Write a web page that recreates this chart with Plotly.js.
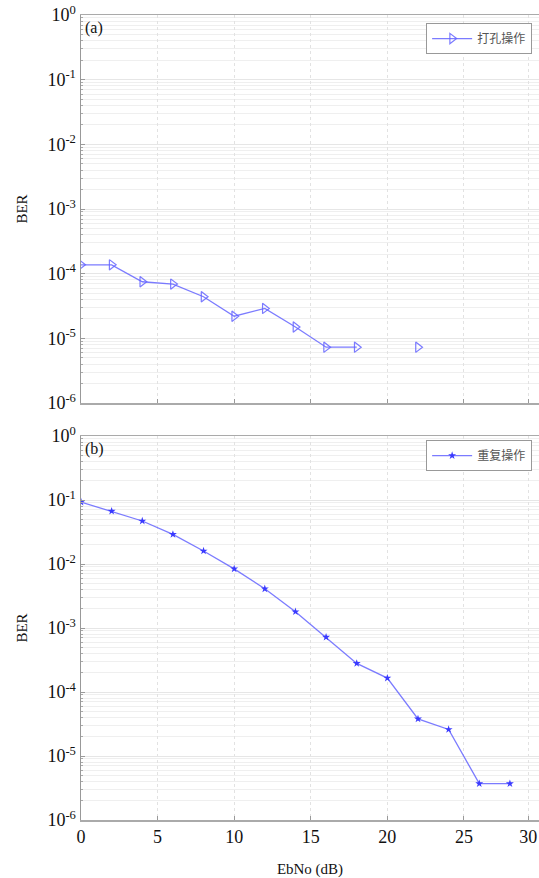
<!DOCTYPE html>
<html>
<head>
<meta charset="utf-8">
<script src="https://cdn.plot.ly/plotly-3.0.1.min.js"></script>
<style>html,body{margin:0;padding:0;background:#fff;}#chart{width:539px;height:878px;}</style>
</head>
<body>
<div id="chart"></div>
<script>
// Panel (a): puncturing
const xA = [0, 2, 4, 6, 8, 10, 12, 14, 16, 18, 20, 22];
const berA = [1.37e-4, 1.37e-4, 7.5e-5, 6.9e-5, 4.4e-5, 2.2e-5, 2.9e-5, 1.5e-5, 7.3e-6, 7.3e-6, null, 7.3e-6];
const nameA = '打孔操作';
// Panel (b): repetition
const xB = [0, 2, 4, 6, 8, 10, 12, 14, 16, 18, 20, 22, 24, 26, 28];
const berB = [0.093, 0.067, 0.047, 0.029, 0.016, 0.0084, 0.0041, 0.0018, 7.2e-4, 2.8e-4, 1.65e-4, 3.8e-5, 2.6e-5, 3.7e-6, 3.7e-6];
const nameB = '重复操作';
// Tick labels
const yTickVals = [1, 0.1, 0.01, 0.001, 1e-4, 1e-5, 1e-6];
const yTickText = ['10<sup>0</sup>', '10<sup>-1</sup>', '10<sup>-2</sup>', '10<sup>-3</sup>', '10<sup>-4</sup>', '10<sup>-5</sup>', '10<sup>-6</sup>'];
const xTickVals = [0, 5, 10, 15, 20, 25, 29.2];
const xTickText = ['0', '5', '10', '15', '20', '25', '30'];

const minorVals = [];
for (let e = -6; e < 0; e++) for (let m = 2; m <= 9; m++) minorVals.push(m * Math.pow(10, e));

const lineCol = 'rgba(100,100,255,0.85)';
const serif = 'Liberation Serif';

const traces = [
  {x: xA, y: berA, name: nameA, mode: 'lines+markers', connectgaps: false,
   xaxis: 'x2', yaxis: 'y2', legend: 'legend',
   line: {color: lineCol, width: 1.3},
   marker: {symbol: 'triangle-right-open', size: 9, color: lineCol, line: {width: 1.2}}},
  {x: xB, y: berB, name: nameB, mode: 'lines+markers',
   xaxis: 'x', yaxis: 'y', legend: 'legend2',
   line: {color: lineCol, width: 1.3},
   marker: {symbol: 'star', size: 6, color: '#3a3aff'}}
];

function yax(domain) {
  return {
    type: 'log', domain: domain, range: [-6, 0],
    tickmode: 'array', tickvals: yTickVals, ticktext: yTickText,
    ticks: 'inside', ticklen: 4, tickcolor: '#999',
    showgrid: true, gridcolor: '#e6e6e6', gridwidth: 1,
    showline: true, linecolor: '#999', linewidth: 1.5, mirror: true,
    zeroline: false,
    tickfont: {family: serif, size: 18, color: '#111'},
    title: {text: 'BER', font: {family: serif, size: 15, color: '#111'}, standoff: 16},
    minor: {tickmode: 'array', tickvals: minorVals, showgrid: true, gridcolor: '#efefef', ticks: 'inside', ticklen: 2, tickcolor: '#aaa'}
  };
}
function xax(showLabels, anchor) {
  return {
    range: [0, 29.9], anchor: anchor,
    tickmode: 'array', tickvals: xTickVals, ticktext: xTickText,
    showticklabels: showLabels,
    ticks: 'inside', ticklen: 4, tickcolor: '#999',
    showgrid: true, gridcolor: '#e2e2e2', griddash: 'dot',
    showline: true, linecolor: '#aaa', linewidth: 1.5, mirror: true,
    zeroline: false,
    tickfont: {family: serif, size: 18, color: '#111'}
  };
}

const xb = xax(true, 'y');
xb.title = {text: 'EbNo (dB)', font: {family: serif, size: 15, color: '#111'}, standoff: 17};
const xt = xax(false, 'y2');
xt.matches = 'x';

const legendStyle = {
  bgcolor: '#fff', bordercolor: '#999', borderwidth: 1,
  font: {family: 'Noto Sans CJK SC', size: 12, color: '#555'},
  xanchor: 'right', yanchor: 'top', itemwidth: 40, tracegroupgap: 0
};

const layout = {
  width: 539, height: 878,
  font: {family: serif, size: 17, color: '#111'},
  margin: {l: 81, r: 0, t: 15, b: 58},
  paper_bgcolor: '#fff', plot_bgcolor: '#fff',
  showlegend: true,
  xaxis: xb,
  yaxis: yax([0, 0.477]),
  xaxis2: xt,
  yaxis2: yax([0.518, 1]),
  legend: Object.assign({x: 0.985, y: 0.99, xref: 'paper', yref: 'paper'}, legendStyle),
  legend2: Object.assign({x: 0.985, y: 0.472, xref: 'paper', yref: 'paper'}, legendStyle),
  annotations: [
    {text: '(a)', xref: 'paper', yref: 'paper', x: 0.005, y: 0.998, xanchor: 'left', yanchor: 'top', showarrow: false, font: {family: serif, size: 16, color: '#111'}},
    {text: '(b)', xref: 'paper', yref: 'paper', x: 0.005, y: 0.474, xanchor: 'left', yanchor: 'top', showarrow: false, font: {family: serif, size: 16, color: '#111'}}
  ]
};

Plotly.newPlot('chart', traces, layout, {displayModeBar: false, staticPlot: true});
</script>
</body>
</html>
